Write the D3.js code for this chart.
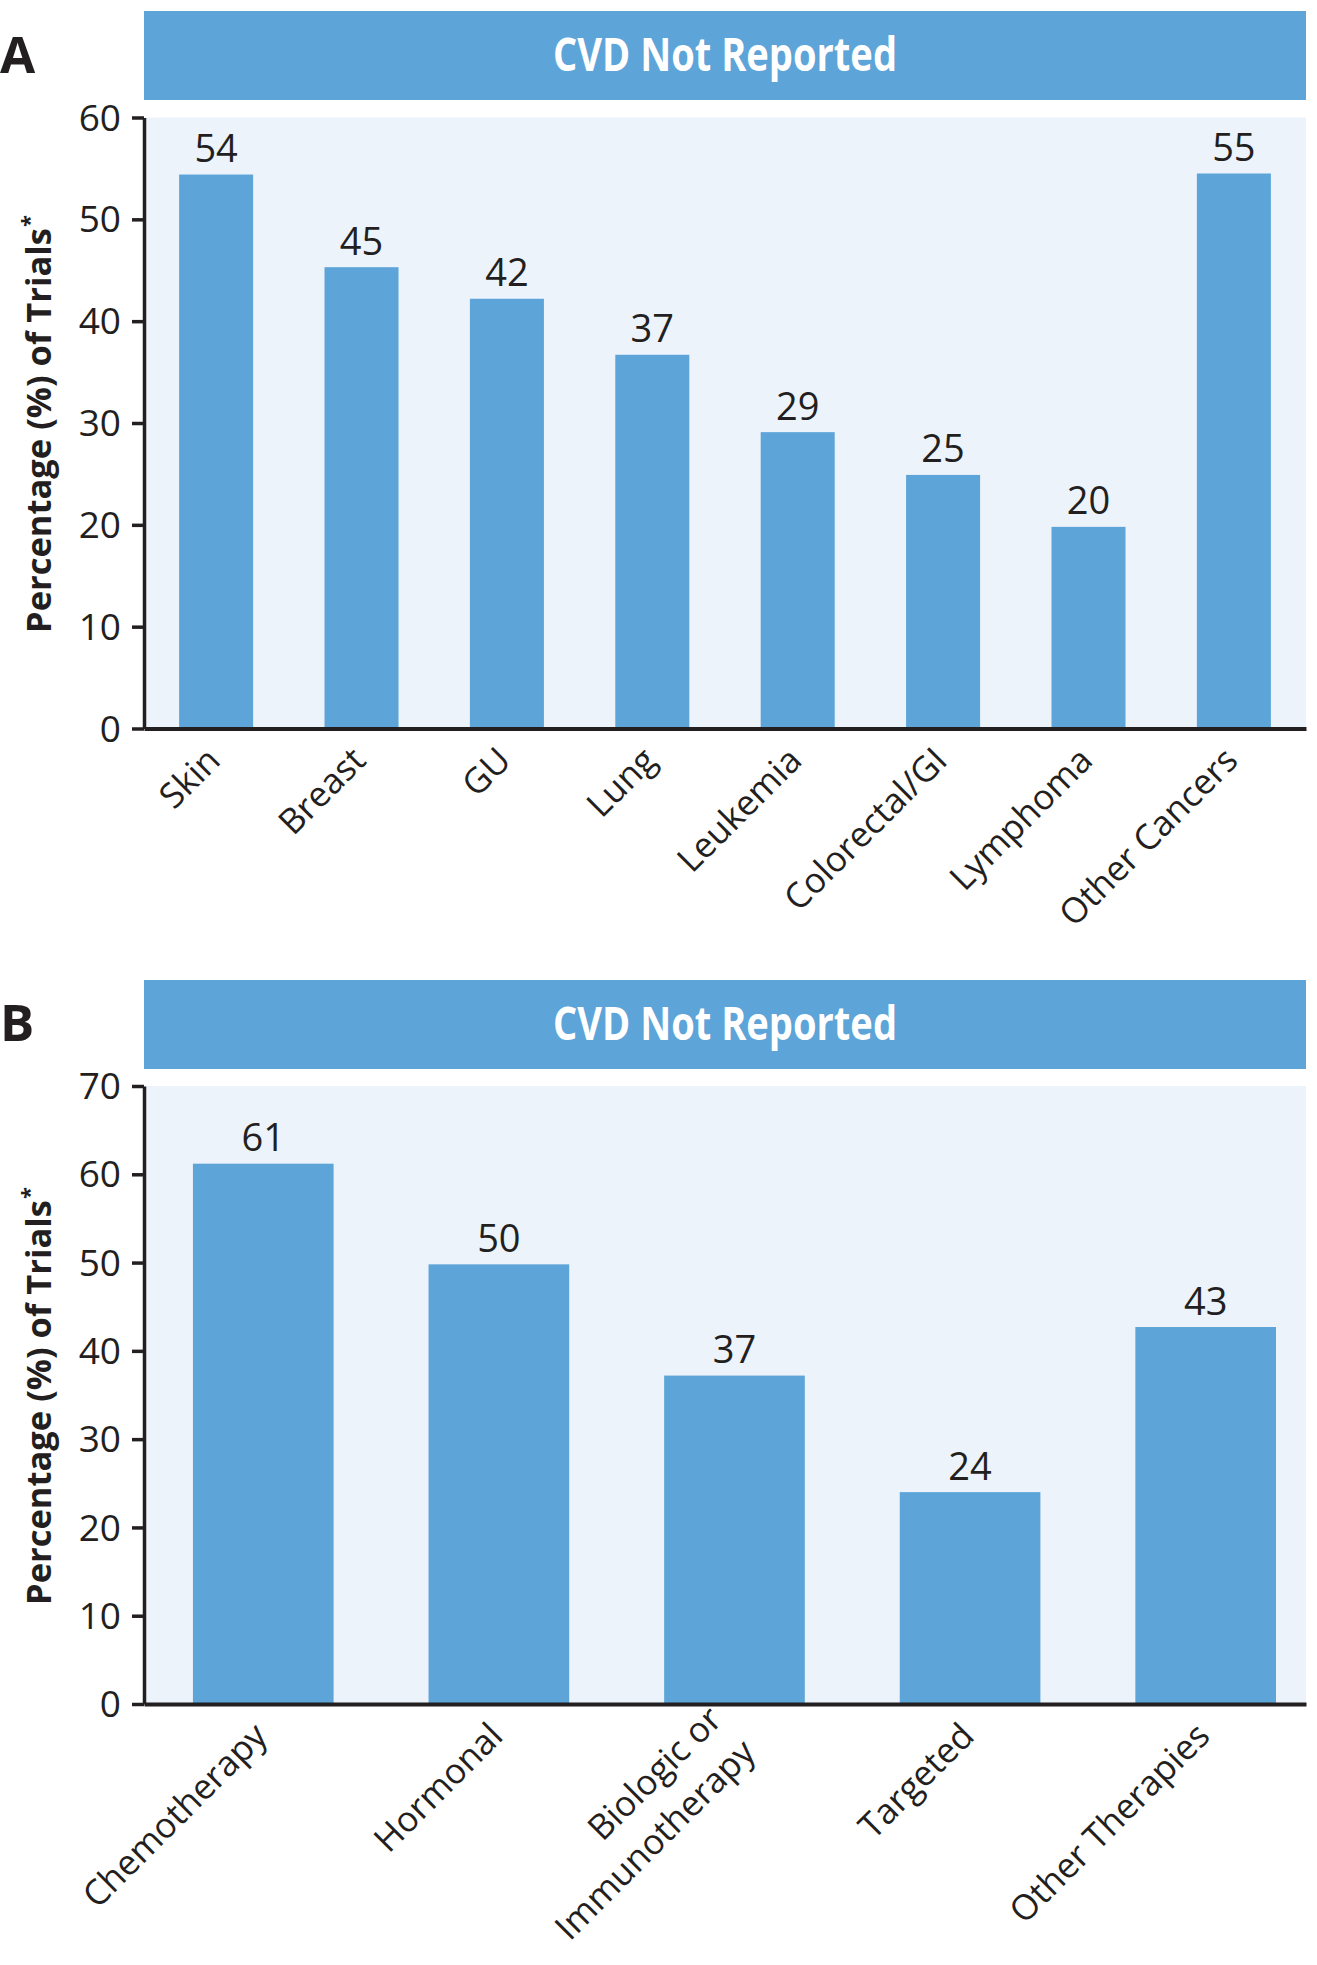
<!DOCTYPE html>
<html>
<head>
<meta charset="utf-8">
<script src="https://cdn.jsdelivr.net/npm/d3@7"></script>
<style>
  html, body { margin: 0; padding: 0; background: #ffffff; }
  svg { display: block; }
  text { font-family: "Open Sans", "Noto Sans", "DejaVu Sans", sans-serif; fill: #231F20; }
</style>
</head>
<body>
<svg id="chart" width="1317" height="1965"></svg>
<script>
// ---------- DATA ----------
const cancerCategories = ["Skin", "Breast", "GU", "Lung", "Leukemia", "Colorectal/GI", "Lymphoma", "Other Cancers"];
const cancerValues = [54.4, 45.3, 42.2, 36.7, 29.1, 24.9, 19.8, 54.5];
const cancerLabels = ["54", "45", "42", "37", "29", "25", "20", "55"];
const cancerTicks = [0, 10, 20, 30, 40, 50, 60];

const therapyCategories = ["Chemotherapy", "Hormonal", "Biologic or\nImmunotherapy", "Targeted", "Other Therapies"];
const therapyValues = [61.2, 49.8, 37.2, 24.0, 42.7];
const therapyLabels = ["61", "50", "37", "24", "43"];
const therapyTicks = [0, 10, 20, 30, 40, 50, 60, 70];

const panelLetters = ["A", "B"];
const bannerTitle = "CVD Not Reported";
const yAxisTitle = "Percentage (%) of Trials";
const yAxisTitleMark = "*";

// ---------- STYLE ----------
const BAR = "#5DA4D8";
const BG = "#ECF3FB";
const INK = "#231F20";

const svg = d3.select("#chart");

function drawPanel(opts) {
  const g = svg.append("g");
  const left = 144, right = 1306;

  // banner
  g.append("rect")
    .attr("x", left).attr("y", opts.bannerTop)
    .attr("width", right - left).attr("height", 89)
    .attr("fill", BAR);
  g.append("text")
    .attr("x", (left + right) / 2)
    .attr("y", opts.bannerTop + 59.5)
    .attr("text-anchor", "middle")
    .attr("font-size", 46)
    .attr("font-weight", 700)
    .attr("textLength", 344)
    .attr("lengthAdjust", "spacingAndGlyphs")
    .style("fill", "#ffffff")
    .text(bannerTitle);

  // panel letter
  g.append("text")
    .attr("x", 0).attr("y", opts.letterBaseline)
    .attr("font-size", 51)
    .attr("font-weight", 700)
    .text(opts.letter);

  const y = d3.scaleLinear()
    .domain([0, d3.max(opts.ticks)])
    .range([opts.plotBottom, opts.plotTop]);

  const x = d3.scaleBand()
    .domain(opts.categories)
    .range([left, right])
    .paddingInner(opts.paddingInner)
    .paddingOuter(opts.paddingOuter)
    .align(opts.align);

  // plot background
  g.append("rect")
    .attr("x", left).attr("y", opts.plotTop)
    .attr("width", right - left).attr("height", opts.plotBottom - opts.plotTop)
    .attr("fill", BG);

  // bars
  g.selectAll("rect.bar")
    .data(opts.values)
    .join("rect")
    .attr("class", "bar")
    .attr("x", (d, i) => x(opts.categories[i]))
    .attr("width", x.bandwidth())
    .attr("y", d => y(d))
    .attr("height", d => y(0) - y(d))
    .attr("fill", BAR);

  // value labels
  g.selectAll("text.val")
    .data(opts.values)
    .join("text")
    .attr("class", "val")
    .attr("x", (d, i) => x(opts.categories[i]) + x.bandwidth() / 2)
    .attr("y", d => y(d) - 12.5)
    .attr("text-anchor", "middle")
    .attr("font-size", 38)
    .text((d, i) => opts.labels[i]);

  // x axis line
  const xAxis = g.append("g")
    .attr("transform", `translate(0,${y(0)})`)
    .call(d3.axisBottom(x).tickSize(0).tickSizeOuter(0).tickFormat(""));
  xAxis.select(".domain").attr("stroke", INK).attr("stroke-width", 4);

  // y axis
  const yAxis = g.append("g")
    .attr("transform", `translate(${left},0)`)
    .call(d3.axisLeft(y).tickValues(opts.ticks).tickSize(12).tickSizeOuter(0).tickPadding(11));
  yAxis.attr("font-family", null).attr("font-size", null);
  yAxis.select(".domain").attr("stroke", INK).attr("stroke-width", 3.5);
  yAxis.selectAll(".tick line").attr("stroke", INK).attr("stroke-width", 3.5);
  yAxis.selectAll(".tick text")
    .attr("font-size", 37)
    .attr("fill", INK)
    .attr("dy", "0.34em");

  // category labels (rotated)
  const lh = 47;
  const cat = g.selectAll("g.cat")
    .data(opts.categories)
    .join("g")
    .attr("class", "cat")
    .attr("transform", d => `translate(${x(d) + x.bandwidth() / 2 + 6},${y(0) + 34}) rotate(-45)`);
  cat.each(function(d) {
    const lines = d.split("\n");
    const t = d3.select(this).append("text")
      .attr("text-anchor", "end")
      .attr("font-size", 35);
    lines.forEach((ln, i) => {
      t.append("tspan")
        .attr("x", 0)
        .attr("y", (i - (lines.length - 1) / 2) * lh)
        .text(ln);
    });
  });

  // y axis title
  const mid = (opts.plotTop + opts.plotBottom) / 2;
  const yt = g.append("text")
    .attr("transform", `translate(51,${mid + 210}) rotate(-90)`)
    .attr("text-anchor", "start")
    .attr("font-size", 34.5)
    .attr("font-weight", 700);
  yt.append("tspan").text(yAxisTitle);
  yt.append("tspan")
    .attr("font-size", 22)
    .attr("dy", -14)
    .attr("dx", 1)
    .text(yAxisTitleMark);
}

drawPanel({
  letter: panelLetters[0],
  letterBaseline: 73,
  bannerTop: 11,
  plotTop: 117.5,
  plotBottom: 728.5,
  categories: cancerCategories,
  values: cancerValues,
  labels: cancerLabels,
  ticks: cancerTicks,
  paddingInner: 0.491,
  paddingOuter: 0.2415,
  align: 0.5
});

drawPanel({
  letter: panelLetters[1],
  letterBaseline: 1041,
  bannerTop: 980,
  plotTop: 1086,
  plotBottom: 1704,
  categories: therapyCategories,
  values: therapyValues,
  labels: therapyLabels,
  ticks: therapyTicks,
  paddingInner: 0.403,
  paddingOuter: 0.1675,
  align: 0.62
});
</script>
</body>
</html>
